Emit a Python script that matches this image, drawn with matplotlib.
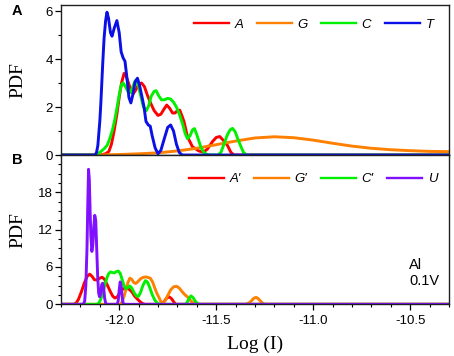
import matplotlib
matplotlib.use("Agg")
import matplotlib.pyplot as plt
from matplotlib.ticker import MultipleLocator, FixedLocator

plt.rcParams['font.family'] = ['Liberation Sans', 'DejaVu Sans']
plt.rcParams['axes.unicode_minus'] = False

# ---------------- data ----------------
# Panel A
A_x = [-12.3, -12.10, -12.07, -12.053, -12.04, -12.027, -12.012, -12.0, -11.988, -11.975, -11.965,
       -11.952, -11.94, -11.928, -11.915, -11.9, -11.885, -11.87, -11.855, -11.84, -11.82, -11.8,
       -11.785, -11.77, -11.755, -11.74, -11.725, -11.712, -11.7, -11.688, -11.675, -11.666, -11.648,
       -11.623, -11.59, -11.565, -11.545, -11.52, -11.5, -11.482, -11.462, -11.442, -11.425, -11.41, -10.3]
A_y = [0, 0, 0.05, 0.15, 0.45, 0.97, 1.7, 2.4, 3.0, 3.4, 3.3,
       3.0, 2.7, 2.55, 2.7, 2.95, 3.0, 2.85, 2.5, 2.2, 1.85, 1.65,
       1.7, 1.9, 2.08, 1.95, 1.75, 1.75, 1.85, 1.87, 1.6, 1.39, 0.76,
       0.35, 0.17, 0.12, 0.25, 0.55, 0.73, 0.77, 0.6, 0.4, 0.12, 0, 0]

G_x = [-12.3, -12.1, -12.0, -11.9, -11.8, -11.7, -11.6, -11.5, -11.4, -11.3, -11.2, -11.1, -11.0,
       -10.9, -10.8, -10.7, -10.6, -10.5, -10.4, -10.3]
G_y = [0, 0, 0.02, 0.05, 0.09, 0.17, 0.28, 0.43, 0.58, 0.71, 0.76, 0.72, 0.62,
       0.49, 0.37, 0.28, 0.22, 0.18, 0.15, 0.14]

C_x = [-12.3, -12.12, -12.095, -12.075, -12.061, -12.048, -12.035, -12.022, -12.009, -11.998, -11.988,
       -11.98, -11.968, -11.955, -11.942, -11.93, -11.917, -11.905, -11.89, -11.875, -11.86, -11.848,
       -11.835, -11.82, -11.81, -11.795, -11.782, -11.768, -11.75, -11.735, -11.72, -11.705, -11.69,
       -11.674, -11.66, -11.648, -11.635, -11.622, -11.612, -11.6, -11.58, -11.565, -11.55, -11.535,
       -11.49, -11.475, -11.46, -11.442, -11.428, -11.416, -11.403, -11.39, -11.375, -11.36, -11.345, -10.3]
C_y = [0, 0, 0.14, 0.28, 0.42, 0.7, 1.04, 1.5, 2.08, 2.6, 2.95,
       3.0, 2.85, 2.65, 2.6, 2.85, 3.1, 3.0, 2.5, 2.0, 1.85, 2.05,
       2.45, 2.65, 2.68, 2.45, 2.3, 2.3, 2.36, 2.33, 2.2, 2.0, 1.7,
       1.32, 0.9, 0.68, 0.8, 1.05, 1.1, 0.85, 0.35, 0.12, 0.03, 0,
       0, 0.12, 0.45, 0.85, 1.05, 1.11, 0.98, 0.7, 0.4, 0.12, 0, 0]

T_x = [-12.3, -12.125, -12.117, -12.11, -12.1, -12.095, -12.085, -12.078, -12.07, -12.063, -12.055,
       -12.045, -12.037, -12.025, -12.012, -12.0, -11.99, -11.98, -11.97, -11.96, -11.95, -11.94,
       -11.93, -11.918, -11.906, -11.895, -11.882, -11.872, -11.862, -11.85, -11.84, -11.83, -11.815,
       -11.8, -11.785, -11.765, -11.75, -11.735, -11.72, -11.705, -11.69, -11.675, -10.3]
T_y = [0, 0, 0.1, 0.4, 1.4, 2.1, 3.8, 4.86, 5.6, 5.95, 5.7,
       5.1, 4.95, 5.3, 5.6, 5.1, 4.3, 4.05, 3.9, 3.2, 2.4, 2.17,
       2.5, 3.05, 3.2, 2.9, 2.4, 2.0, 1.4, 1.25, 1.2, 0.8, 0.3,
       0.05, 0.2, 0.75, 1.15, 1.25, 1.0, 0.45, 0.1, 0, 0]

# Panel B
Ap_x = [-12.3, -12.235, -12.222, -12.21, -12.195, -12.18, -12.165, -12.152, -12.14, -12.128, -12.115,
        -12.1, -12.088, -12.075, -12.06, -12.045, -12.033, -12.022, -12.01, -11.995, -11.98, -11.965,
        -11.95, -11.935, -11.92, -11.905, -11.89, -11.875, -11.865, -11.79, -11.777, -11.765, -11.755,
        -11.743, -11.73, -11.718, -11.708, -10.3]
Ap_y = [0, 0, 0.2, 0.8, 2.0, 3.4, 4.5, 4.85, 4.5, 3.95, 3.9,
        4.2, 4.35, 4.0, 3.0, 2.0, 1.3, 1.0, 1.2, 1.9, 2.5, 2.6,
        2.45, 2.0, 1.3, 0.8, 0.35, 0.05, 0, 0, 0.15, 0.6, 1.0,
        1.2, 0.9, 0.35, 0, 0]

Gp_x = [-12.3, -11.995, -11.985, -11.975, -11.965, -11.955, -11.945, -11.935, -11.925, -11.915, -11.905,
        -11.89, -11.875, -11.862, -11.85, -11.84, -11.828, -11.815, -11.805, -11.795, -11.785, -11.777,
        -11.765, -11.75, -11.735, -11.72, -11.705, -11.69, -11.675, -11.66, -11.648, -11.635, -11.622,
        -11.61, -11.6, -11.35, -11.335, -11.32, -11.307, -11.295, -11.283, -11.27, -11.258, -11.245, -10.3]
Gp_y = [0, 0, 0.4, 1.3, 2.4, 3.5, 4.2, 4.0, 3.5, 3.35, 3.6,
        4.1, 4.35, 4.4, 4.3, 4.2, 3.6, 2.5, 1.7, 1.1, 0.4, 0.1,
        0.5, 1.4, 2.3, 2.8, 2.9, 2.6, 2.0, 1.5, 1.2, 0.7, 0.3,
        0.05, 0, 0, 0.15, 0.5, 0.95, 1.12, 0.9, 0.45, 0.12, 0, 0]

Cp_x = [-12.3, -12.115, -12.105, -12.095, -12.085, -12.075, -12.065, -12.055, -12.045, -12.035, -12.025,
        -12.015, -12.005, -11.995, -11.985, -11.975, -11.965, -11.955, -11.945, -11.935, -11.922, -11.91,
        -11.9, -11.89, -11.878, -11.865, -11.855, -11.845, -11.829, -11.815, -11.8, -11.79,
        -11.66, -11.65, -11.64, -11.63, -11.62, -11.608, -11.595, -11.585, -10.3]
Cp_y = [0, 0, 0.2, 0.8, 1.8, 3.0, 4.1, 4.9, 5.2, 5.1, 5.05,
        5.25, 5.35, 5.0, 4.0, 3.0, 2.5, 2.7, 2.95, 2.6, 1.8, 1.3,
        1.3, 1.9, 3.0, 3.8, 3.6, 2.9, 1.5, 0.6, 0.1, 0,
        0, 0.3, 0.9, 1.35, 1.1, 0.5, 0.1, 0, 0]

U_x = [-12.3, -12.185, -12.178, -12.172, -12.166, -12.162, -12.158, -12.154, -12.15, -12.146, -12.141,
       -12.136, -12.131, -12.126, -12.121, -12.116, -12.111, -12.106, -12.101, -12.096, -12.09, -12.085,
       -12.08, -12.075, -12.07, -12.065, -12.01, -12.005, -12.0, -11.995, -11.99, -11.985, -11.98,
       -11.975, -10.3]
U_y = [0, 0, 0.5, 3, 9, 16, 21.7, 20, 15, 11, 8.5,
       9.5, 12.5, 14.3, 13.5, 9, 4.5, 1.8, 1.2, 1.6, 3.2, 3.4,
       2.6, 1.0, 0.2, 0, 0, 0.6, 2.3, 3.6, 3.0, 1.2, 0.2,
       0, 0]

top_series = [("A", A_x, A_y, "#ff0000"), ("G", G_x, G_y, "#ff8000"),
              ("C", C_x, C_y, "#00f000"), ("T", T_x, T_y, "#0a10e6")]
bot_series = [("A\u2032", Ap_x, Ap_y, "#ff0000"), ("G\u2032", Gp_x, Gp_y, "#ff8000"),
              ("C\u2032", Cp_x, Cp_y, "#00f000"), ("U", U_x, U_y, "#8010ff")]

top_yticks = [0, 2, 4, 6]
bot_yticks = [0, 6, 12, 18]
x_ticks = [-12.0, -11.5, -11.0, -10.5]
x_ticklabels = ["-12.0", "-11.5", "-11.0", "-10.5"]

# ---------------- figure ----------------
W, H = 454, 356
fig = plt.figure(figsize=(W / 100, H / 100), dpi=100)
L, R = 61, 449
ax1 = fig.add_axes([L / W, 1 - 155 / H, (R - L) / W, 150 / H])
ax2 = fig.add_axes([L / W, 1 - 304.3 / H, (R - L) / W, 149.3 / H])

lw = 2.1
for lab, xs, ys, col in top_series:
    ax1.plot(xs, ys, color=col, lw=lw, label=lab, solid_joinstyle='round')
for lab, xs, ys, col in bot_series:
    ax2.plot(xs, ys, color=col, lw=lw, label=lab, solid_joinstyle='round')

ax1.set_xlim(-12.3, -10.3)
ax2.set_xlim(-12.3, -10.3)
ax1.set_ylim(0, 6.25)
ax2.set_ylim(0, 24)

for ax in (ax1, ax2):
    ax.xaxis.set_major_locator(FixedLocator(x_ticks))
    ax.xaxis.set_minor_locator(MultipleLocator(0.1))
    ax.tick_params(which='both', direction='out', top=False, right=False, colors='black')
    ax.tick_params(which='major', length=4, width=0.9, labelsize=9.5, pad=2)
    ax.tick_params(which='minor', length=2.5, width=0.8)
    for s in ax.spines.values():
        s.set_linewidth(1.0)
        s.set_color('#202020')

ax1.yaxis.set_major_locator(FixedLocator(top_yticks))
ax1.yaxis.set_minor_locator(MultipleLocator(1))
ax2.yaxis.set_major_locator(FixedLocator(bot_yticks))
ax2.yaxis.set_minor_locator(MultipleLocator(1.5))
ax1.tick_params(axis='x', labelbottom=False)
ax2.set_xticks(x_ticks)
ax2.set_xticklabels(x_ticklabels)
ax2.tick_params(axis='x', which='major', pad=4)

serif = ['Liberation Serif', 'DejaVu Serif']
ax1.set_ylabel("PDF", family=serif, fontsize=14)
ax2.set_ylabel("PDF", family=serif, fontsize=14)
ax1.yaxis.set_label_coords(-0.088, 0.5)
ax2.yaxis.set_label_coords(-0.088, 0.5)
ax2.set_xlabel("Log (I)", family=serif, fontsize=14, labelpad=6)

leg_kw = dict(frameon=False, ncol=4, handlelength=2.65, handletextpad=0.4,
              columnspacing=1.05, borderpad=0, borderaxespad=0,
              prop={'style': 'italic', 'size': 9.5, 'family': ['Liberation Sans', 'DejaVu Sans']})
leg1 = ax1.legend(loc='center right', bbox_to_anchor=(0.96, 0.867), **leg_kw)
leg2 = ax2.legend(loc='center right', bbox_to_anchor=(0.97, 0.837), **leg_kw)
for lg in (leg1, leg2):
    for ln in lg.get_lines():
        ln.set_linewidth(1.7)

ax2.text(0.897, 0.31, "Al\n0.1V", transform=ax2.transAxes, ha='left', va='top',
         fontsize=10.5, linespacing=1.2)

fig.text(17 / W, 1 - 11 / H, "A", fontsize=10.5, fontweight='bold', ha='center', va='center')
fig.text(17 / W, 1 - 160 / H, "B", fontsize=10.5, fontweight='bold', ha='center', va='center')

fig.savefig("out.png", dpi=100)
